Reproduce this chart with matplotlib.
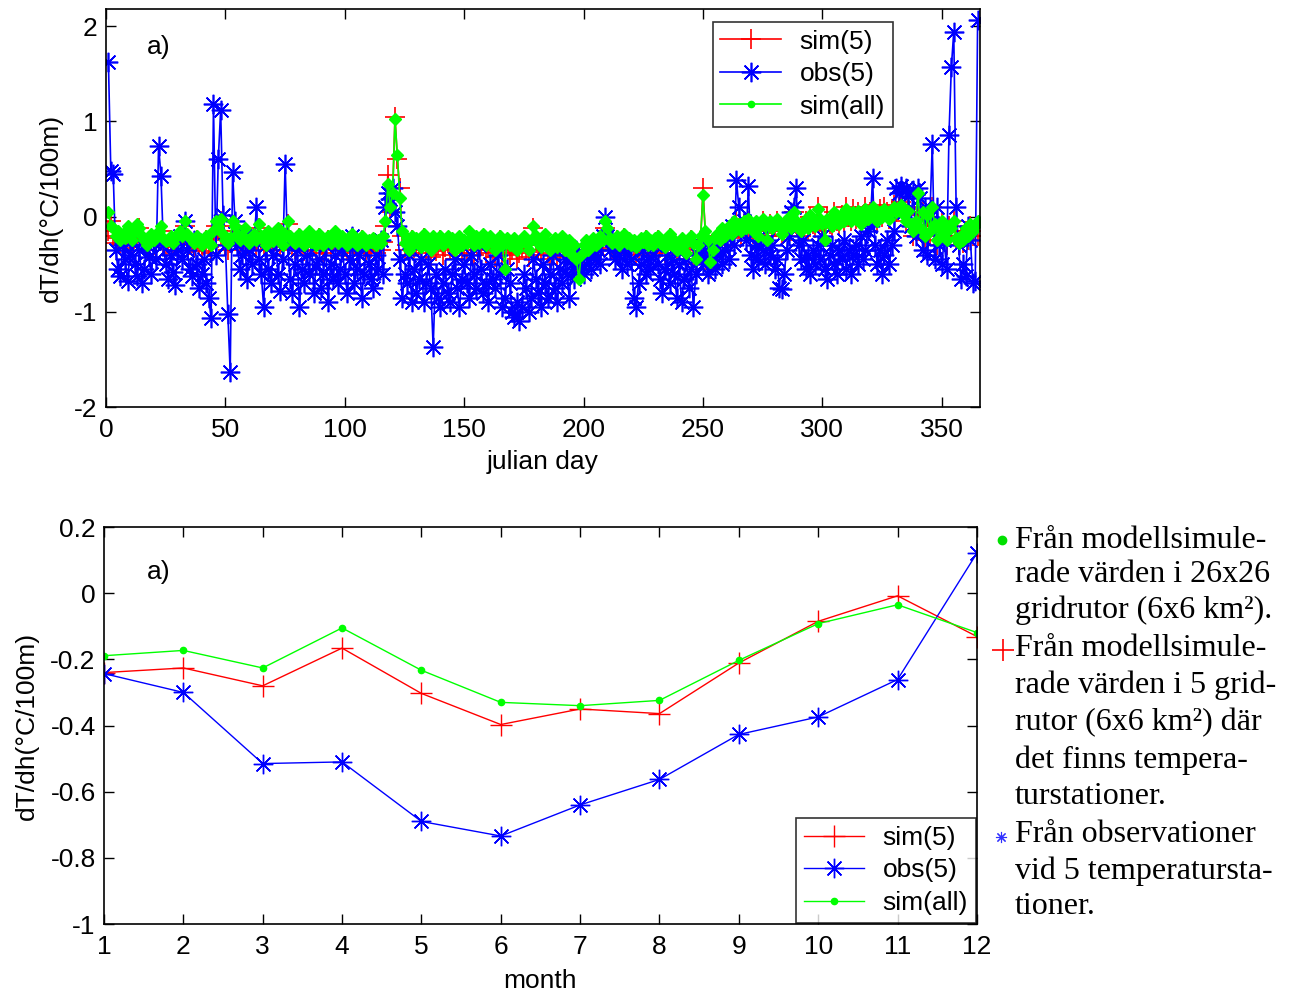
import numpy as np
import matplotlib
matplotlib.use("Agg")
import matplotlib.pyplot as plt
from matplotlib.lines import Line2D

plt.rcParams['font.family'] = ['Liberation Sans', 'DejaVu Sans']
plt.rcParams['axes.unicode_minus'] = False

# -- daily lapse rates (degC/100m), day 1..365
days = np.arange(1, 366)

obs5_daily = [
    1.62, 0.48, 0.45, -0.35, -0.55, -0.62, -0.30, -0.45, -0.68, -0.40,
    -0.25, -0.50, -0.62, -0.35, -0.70, -0.55, -0.30, -0.42, -0.60, -0.28,
    -0.45, 0.74, 0.43, -0.30, -0.50, -0.65, -0.40, -0.58, -0.72, -0.35,
    -0.20, -0.45, -0.05, -0.35, -0.55, -0.62, -0.25, -0.50, -0.75, -0.60,
    -0.45, -0.70, -0.85, -1.07, 1.18, -0.40, 0.60, 1.12, 0.02, -0.30,
    -1.02, -1.63, 0.47, -0.05, -0.30, -0.55, -0.40, -0.20, -0.65, -0.35,
    -0.50, -0.25, 0.10, -0.45, -0.60, -0.95, -0.30, -0.55, -0.70, -0.40,
    -0.25, -0.60, -0.78, -0.45, 0.55, -0.30, -0.65, -0.80, -0.50, -0.35,
    -0.95, -0.55, -0.70, -0.40, -0.60, -0.25, -0.80, -0.50, -0.45, -0.75,
    -0.60, -0.30, -0.90, -0.50, -0.65, -0.40, -0.70, -0.55, -0.35, -0.60,
    -0.80, -0.45, -0.20, -0.70, -0.55, -0.40, -0.85, -0.60, -0.30, -0.50,
    -0.65, -0.75, -0.40, -0.55, -0.25, -0.60, 0.10, 0.25, 0.18, 0.30,
    0.05, -0.10, -0.45, -0.85, -0.60, -0.70, -0.40, -0.90, -0.55, -0.80,
    -0.65, -0.45, -0.90, -0.70, -0.50, -0.75, -1.37, -0.60, -0.85, -0.95,
    -0.70, -0.55, -0.80, -0.90, -0.60, -0.45, -0.75, -0.95, -0.65, -0.50,
    -0.70, -0.85, -0.40, -0.60, -0.75, -0.30, -0.55, -0.80, -0.70, -0.90,
    -0.50, -0.65, -0.75, -0.40, -0.60, -0.95, -0.85, -0.55, -0.70, -1.00,
    -1.05, -0.90, -1.10, -0.95, -0.60, -0.75, -1.00, -0.85, -0.45, -0.65,
    -0.80, -0.95, -0.50, -0.70, -0.85, -0.60, -0.40, -0.75, -0.90, -0.55,
    -0.70, -0.45, -0.60, -0.85, -0.50, -0.65, -0.35, -0.55, -0.45, -0.60,
    -0.50, -0.40, -0.55, -0.30, -0.45, -0.35, -0.50, -0.20, 0.00, -0.20,
    -0.35, -0.25, -0.45, -0.30, -0.40, -0.55, -0.35, -0.50, -0.30, -0.45,
    -0.85, -0.95, -0.70, -0.50, -0.35, -0.60, -0.45, -0.55, -0.40, -0.30,
    -0.50, -0.65, -0.80, -0.55, -0.40, -0.70, -0.45, -0.60, -0.85, -0.50,
    -0.90, -0.65, -0.45, -0.75, -0.55, -0.95, -0.60, -0.40, -0.30, -0.50,
    -0.35, -0.60, -0.45, -0.30, -0.55, -0.40, -0.25, -0.50, -0.35, -0.20,
    -0.45, -0.10, -0.30, 0.38, 0.10, -0.15, -0.05, -0.25, 0.32, -0.40,
    -0.55, -0.30, -0.45, -0.20, -0.35, -0.50, -0.25, -0.40, -0.30, -0.55,
    -0.45, -0.75, -0.76, -0.60, -0.35, -0.20, 0.05, 0.10, 0.30, -0.30,
    -0.45, -0.25, -0.55, -0.40, -0.60, -0.35, -0.50, -0.30, -0.45, -0.20,
    -0.55, -0.65, -0.40, -0.30, -0.50, -0.60, -0.35, -0.45, -0.25, -0.55,
    -0.35, -0.60, -0.40, -0.30, -0.50, -0.20, -0.45, -0.35, -0.15, -0.10,
    0.41, -0.30, -0.50, -0.35, -0.60, -0.40, -0.25, -0.50, -0.30, -0.15,
    0.30, 0.25, 0.32, 0.05, 0.30, 0.22, -0.10, 0.28, -0.20, 0.30,
    0.20, -0.35, 0.10, -0.40, 0.00, 0.76, -0.45, 0.10, -0.30, -0.50,
    -0.25, -0.55, 0.86, 1.57, 1.94, 0.10, -0.30, -0.65, -0.50, -0.62,
    -0.10, -0.25, -0.70, -0.68, 2.07,
]

sim5_daily = [
    -0.15, -0.05, -0.20, -0.28, -0.22, -0.30, -0.25, -0.33, -0.20, -0.27,
    -0.30, -0.22, -0.18, -0.12, -0.25, -0.30, -0.35, -0.28, -0.24, -0.30,
    -0.26, -0.20, -0.15, -0.28, -0.32, -0.30, -0.25, -0.35, -0.28, -0.22,
    -0.20, -0.25, -0.10, -0.22, -0.30, -0.28, -0.33, -0.25, -0.30, -0.36,
    -0.30, -0.25, -0.32, -0.38, -0.20, -0.10, -0.15, -0.05, -0.22, -0.30,
    -0.35, -0.28, -0.10, -0.15, -0.22, -0.30, -0.25, -0.18, -0.30, -0.33,
    -0.27, -0.22, -0.30, -0.12, -0.25, -0.30, -0.35, -0.20, -0.28, -0.32,
    -0.25, -0.18, -0.30, -0.35, -0.22, -0.08, -0.25, -0.30, -0.34, -0.28,
    -0.22, -0.30, -0.36, -0.25, -0.20, -0.32, -0.28, -0.35, -0.22, -0.30,
    -0.38, -0.30, -0.25, -0.33, -0.28, -0.20, -0.35, -0.30, -0.26, -0.32,
    -0.36, -0.28, -0.22, -0.30, -0.38, -0.34, -0.25, -0.32, -0.36, -0.30,
    -0.33, -0.28, -0.38, -0.30, -0.35, -0.27, -0.10, 0.44, 0.05, 0.20,
    1.05, 0.60, 0.30, -0.20, -0.35, -0.30, -0.40, -0.25, -0.33, -0.28,
    -0.30, -0.38, -0.22, -0.35, -0.30, -0.42, -0.28, -0.36, -0.30, -0.25,
    -0.40, -0.32, -0.28, -0.35, -0.30, -0.45, -0.33, -0.27, -0.38, -0.30,
    -0.35, -0.22, -0.30, -0.40, -0.28, -0.35, -0.30, -0.25, -0.38, -0.33,
    -0.28, -0.35, -0.42, -0.30, -0.25, -0.38, -0.33, -0.28, -0.40, -0.35,
    -0.30, -0.45, -0.38, -0.33, -0.27, -0.35, -0.42, -0.30, -0.12, -0.28,
    -0.35, -0.40, -0.30, -0.25, -0.38, -0.45, -0.33, -0.30, -0.40, -0.35,
    -0.28, -0.42, -0.35, -0.30, -0.45, -0.38, -0.50, -0.40, -0.55, -0.35,
    -0.30, -0.42, -0.35, -0.28, -0.40, -0.33, -0.25, -0.30, -0.12, -0.20,
    -0.28, -0.35, -0.30, -0.25, -0.38, -0.30, -0.22, -0.33, -0.28, -0.35,
    -0.30, -0.40, -0.35, -0.28, -0.32, -0.25, -0.38, -0.30, -0.35, -0.28,
    -0.25, -0.33, -0.30, -0.38, -0.28, -0.22, -0.35, -0.30, -0.40, -0.33,
    -0.28, -0.35, -0.45, -0.30, -0.25, -0.32, -0.50, -0.38, -0.25, 0.30,
    -0.20, -0.30, -0.55, -0.40, -0.28, -0.22, -0.30, -0.18, -0.25, -0.20,
    -0.15, -0.22, -0.10, -0.05, -0.12, -0.20, -0.08, -0.15, -0.05, -0.10,
    -0.18, -0.10, -0.22, -0.15, -0.05, -0.12, -0.20, -0.08, -0.15, -0.10,
    -0.05, -0.12, -0.20, -0.15, -0.10, -0.02, -0.15, 0.05, -0.08, -0.12,
    -0.20, -0.10, -0.05, -0.15, 0.00, -0.08, -0.12, 0.10, -0.05, -0.10,
    -0.15, 0.00, -0.08, -0.12, 0.05, -0.05, -0.10, 0.02, -0.06, 0.10,
    0.00, -0.05, 0.08, -0.02, 0.05, -0.08, 0.02, 0.10, -0.03, 0.05,
    0.12, 0.02, -0.05, 0.08, 0.00, 0.10, 0.05, -0.02, 0.08, 0.12,
    0.05, 0.10, 0.15, 0.02, -0.05, 0.08, -0.10, -0.20, -0.05, 0.10,
    -0.15, 0.05, -0.25, 0.00, -0.20, 0.10, -0.10, -0.30, -0.15, -0.05,
    -0.20, -0.30, -0.10, -0.15, -0.05, -0.25, -0.30, -0.20, -0.28, -0.15,
    -0.25, -0.10, -0.20, -0.15, -0.20,
]

simall_daily = [
    0.05, -0.10, -0.12, -0.20, -0.15, -0.25, -0.18, -0.22, -0.10, -0.20,
    -0.25, -0.15, -0.08, -0.12, -0.20, -0.25, -0.30, -0.22, -0.18, -0.25,
    -0.20, -0.15, -0.10, -0.22, -0.26, -0.25, -0.20, -0.28, -0.22, -0.18,
    -0.15, -0.20, -0.05, -0.18, -0.22, -0.25, -0.28, -0.20, -0.25, -0.30,
    -0.25, -0.20, -0.28, -0.30, -0.15, -0.05, -0.10, -0.02, -0.18, -0.25,
    -0.28, -0.22, -0.05, -0.10, -0.18, -0.25, -0.20, -0.12, -0.25, -0.28,
    -0.22, -0.18, -0.25, -0.08, -0.20, -0.25, -0.30, -0.15, -0.22, -0.26,
    -0.20, -0.12, -0.25, -0.30, -0.18, -0.05, -0.20, -0.25, -0.28, -0.22,
    -0.18, -0.25, -0.30, -0.20, -0.15, -0.27, -0.22, -0.30, -0.18, -0.25,
    -0.30, -0.25, -0.20, -0.28, -0.22, -0.15, -0.28, -0.25, -0.20, -0.27,
    -0.30, -0.22, -0.18, -0.25, -0.30, -0.28, -0.20, -0.26, -0.30, -0.25,
    -0.27, -0.22, -0.30, -0.25, -0.28, -0.20, -0.05, 0.34, 0.10, 0.25,
    1.02, 0.65, 0.20, -0.15, -0.28, -0.22, -0.35, -0.20, -0.28, -0.22,
    -0.25, -0.32, -0.18, -0.30, -0.25, -0.35, -0.20, -0.30, -0.25, -0.20,
    -0.30, -0.25, -0.20, -0.28, -0.22, -0.35, -0.25, -0.20, -0.30, -0.25,
    -0.28, -0.15, -0.25, -0.30, -0.20, -0.28, -0.22, -0.18, -0.30, -0.25,
    -0.20, -0.28, -0.35, -0.25, -0.20, -0.30, -0.55, -0.22, -0.30, -0.28,
    -0.22, -0.35, -0.30, -0.25, -0.20, -0.28, -0.35, -0.25, -0.10, -0.20,
    -0.28, -0.32, -0.22, -0.18, -0.30, -0.35, -0.25, -0.22, -0.32, -0.28,
    -0.20, -0.35, -0.28, -0.25, -0.40, -0.30, -0.45, -0.65, -0.40, -0.30,
    -0.25, -0.35, -0.30, -0.22, -0.30, -0.28, -0.20, -0.25, -0.05, -0.12,
    -0.22, -0.28, -0.25, -0.20, -0.30, -0.25, -0.18, -0.28, -0.22, -0.30,
    -0.25, -0.32, -0.28, -0.22, -0.27, -0.20, -0.30, -0.25, -0.30, -0.22,
    -0.20, -0.28, -0.25, -0.32, -0.22, -0.18, -0.30, -0.25, -0.35, -0.28,
    -0.22, -0.30, -0.38, -0.25, -0.20, -0.28, -0.45, -0.30, -0.20, 0.23,
    -0.15, -0.25, -0.48, -0.35, -0.22, -0.18, -0.25, -0.12, -0.20, -0.15,
    -0.10, -0.18, -0.05, -0.10, -0.08, -0.15, -0.05, -0.12, -0.02, -0.08,
    -0.15, -0.05, -0.20, -0.10, -0.02, -0.10, -0.25, -0.05, -0.12, -0.08,
    -0.02, -0.10, -0.18, -0.12, -0.05, 0.00, -0.12, 0.05, -0.05, -0.10,
    -0.15, -0.08, -0.02, -0.12, 0.02, -0.05, -0.10, 0.08, -0.02, -0.08,
    -0.25, -0.02, -0.05, -0.10, 0.05, -0.05, -0.08, 0.03, -0.05, 0.08,
    0.02, -0.05, 0.05, -0.02, 0.06, -0.08, 0.02, 0.08, -0.02, 0.05,
    0.10, 0.02, -0.05, 0.05, 0.00, 0.08, 0.05, -0.02, 0.06, 0.10,
    0.05, 0.08, 0.12, 0.02, -0.05, 0.06, -0.08, -0.15, -0.05, 0.25,
    -0.12, 0.05, -0.20, 0.02, -0.15, 0.10, -0.08, -0.25, -0.12, -0.05,
    -0.18, -0.25, -0.10, -0.12, -0.05, -0.22, -0.28, -0.20, -0.25, -0.12,
    -0.20, -0.08, -0.15, -0.10, -0.05,
]

# -- monthly means
months = list(range(1, 13))
sim5_month = [-0.24, -0.226, -0.28, -0.166, -0.303, -0.397, -0.35, -0.364, -0.211, -0.085, -0.008, -0.131]
obs5_month = [-0.243, -0.30, -0.515, -0.51, -0.69, -0.734, -0.64, -0.563, -0.427, -0.374, -0.261, 0.121]
simall_month = [-0.189, -0.173, -0.226, -0.105, -0.233, -0.33, -0.34, -0.324, -0.203, -0.092, -0.035, -0.119]

series_names = ['sim(5)', 'obs(5)', 'sim(all)']
ylabel = 'dT/dh(\u00b0C/100m)'

asterisk = (8, 2, 0)
fs = 19

fig = plt.figure(figsize=(12.9, 9.94), dpi=100)


def style_axes(ax):
    ax.tick_params(direction='in', length=7, width=1.0, labelsize=fs,
                   top=True, right=True, colors='black')
    ax.tick_params(axis='x', pad=8)
    ax.tick_params(axis='y', pad=6)
    for s in ax.spines.values():
        s.set_linewidth(1.2)
    ax.set_ylabel(ylabel, fontsize=fs, labelpad=8)


#-- daily panel
ax1 = fig.add_axes([0.0822, 0.5905, 0.6775, 0.4004])
ax1.plot(days, sim5_daily, '-', color='red', marker='+', ms=14, mew=1.2, lw=1.2)
ax1.plot(days, obs5_daily, '-', color='blue', marker=asterisk, ms=14, mew=1.2, lw=1.2)
ax1.plot(days, simall_daily, '-', color='#00ff00', marker='D', ms=6, lw=1.2)
ax1.set_xlim(0, 366)
ax1.set_ylim(-2, 2.18)
ax1.set_xticks([0, 50, 100, 150, 200, 250, 300, 350])
ax1.set_yticks([-2, -1, 0, 1, 2])
ax1.set_xlabel('julian day', fontsize=fs, labelpad=6)
style_axes(ax1)
ax1.text(0.047, 0.905, 'a)', transform=ax1.transAxes, fontsize=fs, va='center')

handles1 = [
    Line2D([], [], color='red', marker='+', ms=14, mew=1.2, lw=1.2),
    Line2D([], [], color='blue', marker=asterisk, ms=14, mew=1.2, lw=1.2),
    Line2D([], [], color='#00ff00', marker='.', ms=9, lw=1.2),
]
leg1 = ax1.legend(handles1, series_names, loc='upper left', bbox_to_anchor=(0.694, 0.968),
                  fontsize=fs, frameon=True, fancybox=False, handlelength=2.3,
                  borderpad=0.3, labelspacing=0.32, handletextpad=0.7, borderaxespad=0)
leg1.get_frame().set_edgecolor('black')
leg1.get_frame().set_linewidth(1.2)

#-- monthly panel
ax2 = fig.add_axes([0.0806, 0.0704, 0.6767, 0.3994])
ax2.plot(months, sim5_month, '-', color='red', marker='+', ms=16, mew=1.0, lw=1.0)
ax2.plot(months, obs5_month, '-', color='blue', marker=asterisk, ms=14, mew=1.0, lw=1.0)
ax2.plot(months, simall_month, '-', color='#00ff00', marker='.', ms=9, lw=1.0)
ax2.set_xlim(1, 12)
ax2.set_ylim(-1, 0.2)
ax2.set_xticks(months)
ax2.set_yticks([-1, -0.8, -0.6, -0.4, -0.2, 0, 0.2])
ax2.set_yticklabels(['-1', '-0.8', '-0.6', '-0.4', '-0.2', '0', '0.2'])
ax2.set_xlabel('month', fontsize=fs, labelpad=7)
style_axes(ax2)
ax2.text(0.049, 0.887, 'a)', transform=ax2.transAxes, fontsize=fs, va='center')

handles2 = [
    Line2D([], [], color='red', marker='+', ms=16, mew=1.0, lw=1.0),
    Line2D([], [], color='blue', marker=asterisk, ms=14, mew=1.0, lw=1.0),
    Line2D([], [], color='#00ff00', marker='.', ms=9, lw=1.0),
]
leg2 = ax2.legend(handles2, series_names, loc='lower right', bbox_to_anchor=(0.999, 0.003),
                  fontsize=fs, frameon=True, fancybox=False, handlelength=2.3,
                  borderpad=0.3, labelspacing=0.32, handletextpad=0.7, borderaxespad=0)
leg2.get_frame().set_edgecolor('black')
leg2.get_frame().set_linewidth(1.2)

#-- explanation text beside the monthly panel
serif = ['Liberation Serif', 'DejaVu Serif']
note_lines = [
    'Från modellsimule-',
    'rade värden i 26x26',
    'gridrutor (6x6 km²).',
    'Från modellsimule-',
    'rade värden i 5 grid-',
    'rutor (6x6 km²) där',
    'det finns tempera-',
    'turstationer.',
    'Från observationer',
    'vid 5 temperatursta-',
    'tioner.',
]
line_y = [540, 575, 610, 648, 685, 723, 760, 797, 835, 871, 907]
for txt, y in zip(note_lines, line_y):
    fig.text(1015 / 1290, 1 - y / 994, txt, fontsize=23, family=serif,
             va='center', ha='left')

fig.add_artist(Line2D([1002 / 1290], [1 - 540 / 994], marker='o', ms=6,
                      color='#00e000', transform=fig.transFigure))
fig.add_artist(Line2D([1003 / 1290], [1 - 650 / 994], marker='+', ms=16, mew=1.2,
                      color='red', transform=fig.transFigure))
fig.add_artist(Line2D([1001 / 1290], [1 - 837 / 994], marker=asterisk, ms=8, mew=0.8,
                      color='#3030ff', transform=fig.transFigure))

fig.savefig('out.png', dpi=100)
